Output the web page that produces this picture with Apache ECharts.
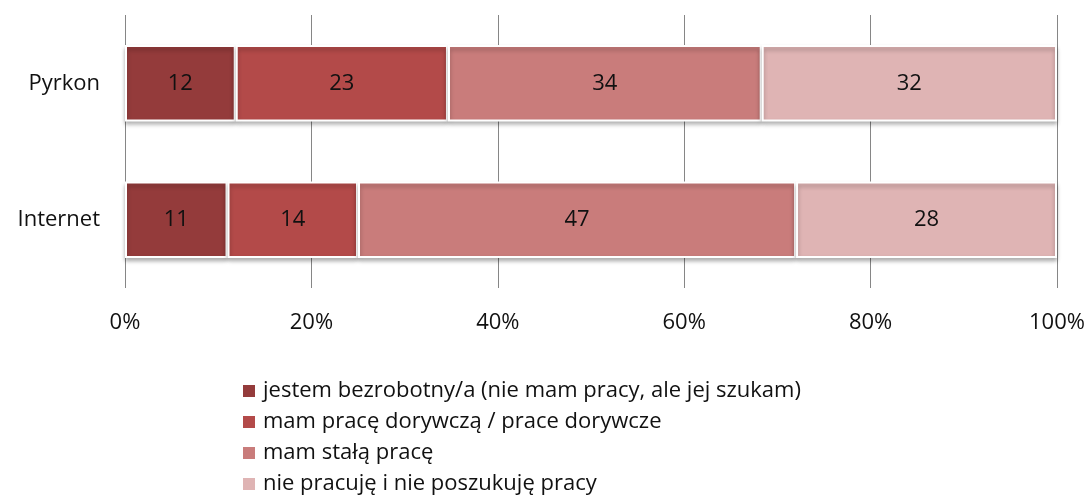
<!DOCTYPE html>
<html><head><meta charset="utf-8">
<script src="https://cdn.jsdelivr.net/npm/echarts@6/dist/echarts.min.js"></script>
<style>html,body{margin:0;padding:0;background:#fff}#c{width:1089px;height:497px}</style>
</head><body><div id="c"></div>
<script>
const categories = ['Pyrkon', 'Internet'];
const seriesNames = [
  'jestem bezrobotny/a (nie mam pracy, ale jej szukam)',
  'mam pracę dorywczą / prace dorywcze',
  'mam stałą pracę',
  'nie pracuję i nie poszukuję pracy'
];
const unemployed = [12, 11];
const casualWork = [23, 14];
const steadyWork = [34, 47];
const notWorking = [32, 28];
const tickLabels = ['0%', '20%', '40%', '60%', '80%', '100%'];
const colors = ['#943B3B', '#B34A49', '#C97C7B', '#DFB4B4'];

const raw = [unemployed, casualWork, steadyWork, notWorking];
const totals = categories.map((_, i) => raw.reduce((s, a) => s + a[i], 0));
const font = 'Open Sans';
const chart = echarts.init(document.getElementById('c'));
chart.setOption({
  animation: false,
  grid: { left: 125, right: 32, top: 15, bottom: 209 },
  legend: {
    orient: 'vertical', left: 241, top: 380, height: 120, padding: 0, itemWidth: 14, itemHeight: 14, itemGap: 9,
    icon: 'rect',
    textStyle: { fontFamily: font, fontSize: 22, lineHeight: 22, color: '#111', padding: [0, 0, 0, 2] },
    data: seriesNames
  },
  xAxis: {
    type: 'value', min: 0, max: 100, interval: 20,
    axisLine: { show: false }, axisTick: { show: false },
    axisLabel: { formatter: v => tickLabels[v / 20], fontFamily: font, fontSize: 22, color: '#111', margin: 24 },
    splitLine: { show: true, lineStyle: { color: '#868686', width: 1 } }
  },
  yAxis: {
    type: 'category', data: categories, inverse: true,
    axisLine: { show: false }, axisTick: { show: false },
    axisLabel: { fontFamily: font, fontSize: 22, color: '#111', margin: 25 }
  },
  series: raw.map((arr, k) => ({
    name: seriesNames[k], type: 'bar', stack: 'all', barWidth: '56%',
    data: arr.map((v, i) => ({ value: v / totals[i] * 100, raw: v })),
    itemStyle: { color: colors[k], borderColor: '#fff', borderWidth: 2,
      shadowColor: 'rgba(0,0,0,0.3)', shadowBlur: 4, shadowOffsetY: 3 },
    label: { show: true, position: 'inside', formatter: p => p.data.raw,
      fontFamily: font, fontSize: 22, color: '#111' }
  }))
});
</script></body></html>
